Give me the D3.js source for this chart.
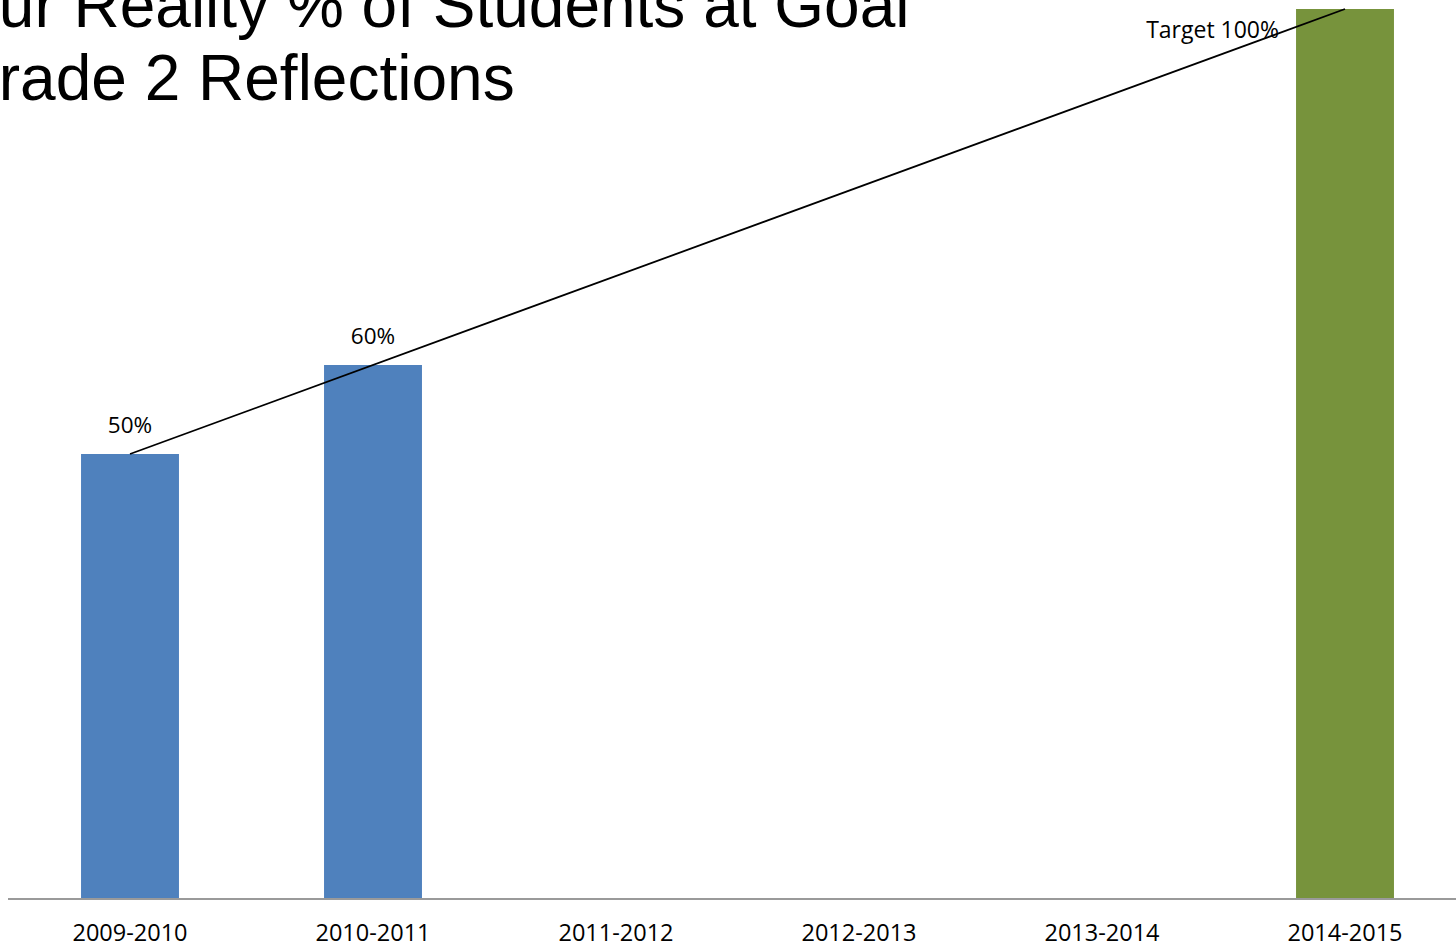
<!DOCTYPE html>
<html>
<head>
<meta charset="utf-8">
<script src="https://cdn.jsdelivr.net/npm/d3@7"></script>
<style>
  html, body { margin: 0; padding: 0; background: #fff; overflow: hidden; }
  svg { display: block; }
</style>
</head>
<body>
<svg id="chart" width="1456" height="947"></svg>
<script>
const categories = ["2009-2010", "2010-2011", "2011-2012", "2012-2013", "2013-2014", "2014-2015"];
const actualValues = [50, 60, null, null, null, null];
const targetValues = [null, null, null, null, null, 100];
const actualLabels = ["50%", "60%", "", "", "", ""];
const targetLabels = ["", "", "", "", "", "Target 100%"];
const trendCategories = ["2009-2010", "2014-2015"];
const trendValues = [50, 100];
const titleLines = ["Our Reality % of Students at Goal", "Grade 2 Reflections"];

const svg = d3.select("#chart");

const x = d3.scaleBand()
  .domain(categories)
  .range([8.5, 1466.5])
  .paddingInner(0.597)
  .paddingOuter(0.2985);

const y = d3.scaleLinear().domain([0, 100]).range([899, 9]);

// bars
svg.append("g").selectAll("rect.actual")
  .data(categories.map((c, i) => ({c, v: actualValues[i]})).filter(d => d.v != null))
  .join("rect")
  .attr("x", d => x(d.c))
  .attr("width", x.bandwidth())
  .attr("y", d => y(d.v))
  .attr("height", d => y(0) - y(d.v))
  .attr("fill", "#4F81BD");

svg.append("g").selectAll("rect.target")
  .data(categories.map((c, i) => ({c, v: targetValues[i]})).filter(d => d.v != null))
  .join("rect")
  .attr("x", d => x(d.c))
  .attr("width", x.bandwidth())
  .attr("y", d => y(d.v))
  .attr("height", d => y(0) - y(d.v))
  .attr("fill", "#77933C");

// axis
const axis = svg.append("g")
  .attr("transform", `translate(0,${y(0)})`)
  .call(d3.axisBottom(x).tickSize(0).tickPadding(0));
axis.select(".domain").attr("stroke", "#9a9a9a").attr("stroke-width", 2)
  .attr("d", `M8,0H1456`);
axis.selectAll(".tick text")
  .attr("y", 42).attr("dy", 0)
  .attr("font-family", "'Open Sans', sans-serif")
  .attr("font-size", 23.5)
  .attr("fill", "#000");

// trend line
const line = d3.line().x(d => x(d.c) + x.bandwidth() / 2).y(d => y(d.v));
svg.append("path")
  .datum(trendCategories.map((c, i) => ({c, v: trendValues[i]})))
  .attr("d", line)
  .attr("fill", "none")
  .attr("stroke", "#000")
  .attr("stroke-width", 1.8);

// data labels
svg.append("g").selectAll("text")
  .data(categories.map((c, i) => ({c, v: actualValues[i], t: actualLabels[i]})).filter(d => d.v != null))
  .join("text")
  .attr("x", d => x(d.c) + x.bandwidth() / 2)
  .attr("y", d => y(d.v) - 21)
  .attr("text-anchor", "middle")
  .attr("font-family", "'Open Sans', sans-serif")
  .attr("font-size", 22.5)
  .attr("fill", "#000")
  .text(d => d.t);

svg.append("g").selectAll("text")
  .data(categories.map((c, i) => ({c, v: targetValues[i], t: targetLabels[i]})).filter(d => d.v != null))
  .join("text")
  .attr("x", d => x(d.c) - 17)
  .attr("y", d => y(d.v) + 29)
  .attr("text-anchor", "end")
  .attr("font-family", "'Open Sans', sans-serif")
  .attr("font-size", 23)
  .attr("fill", "#000")
  .text(d => d.t);

// title
svg.append("g").selectAll("text")
  .data(titleLines)
  .join("text")
  .attr("x", -51)
  .attr("y", (d, i) => 27 + i * 73)
  .attr("font-family", "'Liberation Sans', Arial, sans-serif")
  .attr("font-size", 64)
  .attr("fill", "#000")
  .text(d => d);
</script>
</body>
</html>
